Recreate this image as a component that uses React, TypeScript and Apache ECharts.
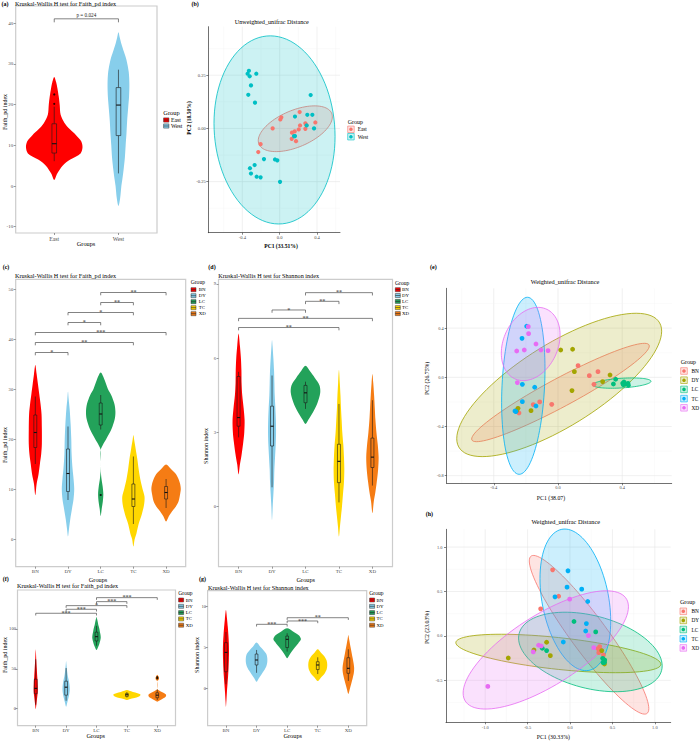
import React, { useEffect, useRef } from "react";
import * as echarts from "echarts";

const FONT = "'Liberation Serif', 'Times New Roman', serif";

// ================= Panel (a): Kruskal-Wallis, Faith_pd, East/West =================
const aGroups = ["East", "West"];
const aViolinColors = ["#FF0000", "#87CEEB"];
// violin outline: [value, half-width in category units]
const aViolins = [
  [[1.5, 0], [3, 0.045], [5, 0.13], [6.5, 0.25], [8, 0.41], [9.5, 0.44], [11, 0.42], [12.5, 0.34], [14, 0.24], [15.5, 0.16], [17.5, 0.1], [20, 0.085], [22, 0.07], [24, 0.05], [25.5, 0.03], [26.8, 0]],
  [[-4.9, 0], [-3, 0.026], [0, 0.045], [1.6, 0.06], [4, 0.08], [7, 0.1], [10, 0.112], [13, 0.125], [16, 0.135], [19, 0.15], [22, 0.165], [25, 0.17], [28, 0.16], [31, 0.125], [33, 0.085], [35, 0.045], [36.5, 0.02], [37.8, 0]],
];
// [lower whisker, Q1, median, Q3, upper whisker]
const aBoxes = [
  [6.1, 8.1, 10.4, 15.3, 19.5],
  [3.1, 12.4, 19.9, 24.2, 28.6],
];
const aOutliers = [[1, 20.2], [1, 22.5]];
const aBrackets = [[1, 2, 41.1]];
const aBracketLabels = ["p = 0.024"];
const aYTicks = [-10, 0, 10, 20, 30, 40];

// ================= Panel (b): Unweighted unifrac PCoA =================
const bGroups = ["East", "West"];
const bColors = ["#F8766D", "#00BFC4"];
const bEast = [
  [0.214, 0.077], [0.018, 0.052], [0.007, 0.042], [-0.075, 0.0], [0.275, 0.024], [0.286, 0.016],
  [0.382, 0.028], [0.218, 0.014], [0.161, -0.014], [0.132, -0.02], [0.204, -0.005], [0.275, -0.002],
  [0.129, -0.049], [0.175, -0.06], [-0.204, -0.074], [-0.229, -0.111],
];
const bWest = [
  [-0.329, 0.271], [-0.343, 0.257], [-0.321, 0.245], [-0.25, 0.257], [-0.307, 0.202], [-0.336, 0.158],
  [-0.264, 0.121], [0.332, 0.157], [0.164, 0.056], [0.296, 0.064], [0.35, 0.064], [0.368, 0.0],
  [0.289, 0.014], [0.154, -0.036], [0.164, -0.036], [-0.168, -0.144], [-0.05, -0.146], [-0.025, -0.15],
  [-0.268, -0.172], [-0.318, -0.187], [-0.307, -0.212], [-0.246, -0.227], [-0.204, -0.23], [0.004, -0.251],
];
// [centre x, centre y, half range x, half range y, correlation]
const bEllipses = [
  [0.1675, -0.0015, 0.3965, 0.1075, 0.52],
  [-0.055, -0.007, 0.648, 0.442, -0.07],
];
const bXTicks = [-0.4, 0, 0.4];
const bYTicks = [-0.25, 0, 0.25];

// ================= Panels (c)(d)(f)(g): five sites =================
const sites = ["BN", "DY", "LC", "TC", "XD"];
const siteViolinColors = ["#FF0000", "#87CEEB", "#23A25A", "#FFD700", "#F57C14"];

// (c) Faith_pd
const cViolins = [
  [[8.8, 0], [11, 0.04], [13, 0.1], [15, 0.14], [17, 0.18], [19, 0.2], [22, 0.2], [25, 0.19], [27, 0.16], [29, 0.12], [31, 0.08], [33, 0.04], [34.8, 0]],
  [[0.5, 0], [2, 0.03], [4, 0.07], [6, 0.12], [8, 0.17], [10, 0.19], [12, 0.17], [14, 0.14], [17, 0.11], [20, 0.1], [23, 0.08], [26, 0.05], [28, 0.02], [29.5, 0]],
  [[4.6, 0], [6, 0.03], [7.5, 0.065], [9, 0.08], [10.5, 0.06], [12, 0.025], [13.5, 0.004], [15.5, 0], [17.8, 0], [19, 0.08], [20, 0.17], [22, 0.33], [24, 0.43], [25.5, 0.45], [27, 0.42], [28.8, 0.32], [30, 0.22], [31.8, 0.12], [33.3, 0]],
  [[-1.5, 0], [0, 0.04], [1, 0.09], [3, 0.16], [5, 0.26], [7, 0.33], [8.5, 0.34], [10, 0.28], [12, 0.21], [14, 0.16], [16, 0.12], [18, 0.07], [20, 0.02], [20.8, 0]],
  [[3.5, 0], [4.5, 0.08], [5.5, 0.18], [6.5, 0.3], [7.5, 0.38], [9, 0.43], [10, 0.45], [11, 0.43], [12, 0.38], [13, 0.3], [14, 0.15], [14.9, 0]],
];
const cBoxes = [
  [15, 18.3, 21.3, 24.8, 28.5],
  [7.8, 9.5, 13.1, 18, 22.5],
  [21.9, 22.8, 25, 27.2, 28.8],
  [3, 6.5, 8, 11, 16.5],
  [6.2, 8, 9.3, 10.5, 12],
];
const cOutliers = [[3, 8.8]];
const cBrackets = [[3, 5, 49.3], [3, 4, 47.3], [2, 4, 45.3], [2, 3, 43.3], [1, 5, 41.3], [1, 4, 39.3], [1, 2, 37.3]];
const cBracketLabels = ["**", "**", "*", "*", "***", "**", "*"];
const cYTicks = [0, 10, 20, 30, 40, 50];

// (d) Shannon
const dViolins = [
  [[1.3, 0], [1.7, 0.04], [2.1, 0.09], [2.6, 0.14], [3.0, 0.17], [3.5, 0.18], [4.0, 0.15], [4.5, 0.11], [5.0, 0.09], [5.5, 0.085], [6.0, 0.07], [6.5, 0.04], [7.0, 0]],
  [[-0.54, 0], [0, 0.02], [0.5, 0.04], [1, 0.06], [1.5, 0.07], [2, 0.09], [2.5, 0.11], [3, 0.12], [3.5, 0.115], [4, 0.1], [4.5, 0.08], [5, 0.07], [5.5, 0.06], [6, 0.04], [6.5, 0.015], [6.74, 0]],
  [[3.34, 0], [3.5, 0.08], [3.8, 0.22], [4.2, 0.36], [4.6, 0.44], [4.9, 0.42], [5.2, 0.28], [5.5, 0.12], [5.69, 0]],
  [[-1.21, 0], [-0.8, 0.03], [-0.4, 0.06], [0, 0.09], [0.5, 0.12], [1, 0.15], [1.5, 0.16], [2, 0.15], [2.5, 0.13], [3, 0.1], [3.5, 0.08], [4, 0.06], [4.5, 0.045], [5, 0.025], [5.53, 0]],
  [[-0.27, 0], [0.2, 0.04], [0.6, 0.09], [1.0, 0.13], [1.5, 0.17], [2.0, 0.185], [2.5, 0.16], [3.0, 0.12], [3.5, 0.09], [4.0, 0.07], [4.5, 0.05], [5.0, 0.025], [5.36, 0]],
];
const dBoxes = [
  [2.8, 3.25, 3.6, 5.26, 5.45],
  [0.78, 2.45, 3.25, 4.06, 5.3],
  [3.95, 4.2, 4.6, 4.9, 5.05],
  [0.17, 0.97, 1.83, 2.52, 4.15],
  [0.85, 1.58, 2.0, 2.77, 4.3],
];
const dBrackets = [[3, 5, 8.65], [3, 4, 8.3], [2, 3, 7.95], [1, 5, 7.61], [1, 4, 7.24]];
const dBracketLabels = ["**", "**", "*", "**", "**"];
const dYTicks = [0, 3, 6, 9];

// (f) Faith_pd
const fViolins = [
  [[-0.8, 0], [5, 0.02], [10, 0.035], [15, 0.05], [20, 0.065], [25, 0.07], [30, 0.065], [35, 0.06], [40, 0.05], [50, 0.035], [60, 0.02], [70, 0.008], [74.5, 0]],
  [[2.5, 0], [8, 0.04], [14, 0.08], [20, 0.11], [25, 0.12], [30, 0.11], [35, 0.09], [40, 0.06], [45, 0.04], [50, 0.025], [55, 0.012], [59.8, 0]],
  [[73.6, 0], [77, 0.05], [81, 0.09], [85, 0.12], [89, 0.14], [93, 0.13], [97, 0.11], [101, 0.09], [105, 0.06], [109, 0.04], [113, 0.015], [115.5, 0]],
  [[10.9, 0], [12, 0.08], [13.5, 0.25], [15, 0.38], [16.5, 0.44], [18, 0.44], [19.5, 0.35], [21, 0.2], [22.5, 0.08], [23.4, 0]],
  [[8.8, 0], [10, 0.06], [12, 0.15], [14, 0.25], [16, 0.29], [18, 0.28], [20, 0.2], [22, 0.1], [23.4, 0.03], [25, 0], [34.5, 0], [36, 0.04], [38.5, 0.06], [41, 0.03], [42.5, 0]],
];
const fBoxes = [
  [5, 18.8, 25.5, 37, 62],
  [10, 17, 27, 34.5, 51],
  [79, 85, 90.4, 96, 104],
  [14, 15.5, 17.5, 19, 21],
  [11, 13.8, 17, 20, 24],
];
const fOutliers = [[5, 38], [5, 39.5]];
const fBrackets = [[1, 3, 119.7], [2, 3, 124.7], [2, 4, 129.3], [3, 4, 134.3], [3, 5, 139.3]];
const fBracketLabels = ["***", "***", "*", "***", "***"];
const fYTicks = [0, 50, 100];

// (g) Shannon
const gViolins = [
  [[-2.25, 0], [-1.5, 0.015], [-0.5, 0.03], [0.5, 0.05], [1.5, 0.07], [2.5, 0.085], [3.5, 0.095], [4.5, 0.1], [5.5, 0.095], [6.5, 0.08], [7.5, 0.06], [8.5, 0.035], [9.6, 0]],
  [[0.8, 0], [1.2, 0.07], [1.7, 0.16], [2.2, 0.25], [2.7, 0.32], [3.2, 0.35], [3.7, 0.35], [4.2, 0.32], [4.7, 0.22], [5.1, 0.12], [5.6, 0]],
  [[3.68, 0], [4.0, 0.06], [4.5, 0.15], [5.0, 0.25], [5.5, 0.36], [6.0, 0.45], [6.5, 0.38], [7.0, 0.18], [7.35, 0]],
  [[0.9, 0], [1.3, 0.1], [1.8, 0.22], [2.3, 0.29], [2.9, 0.31], [3.4, 0.29], [3.9, 0.22], [4.4, 0.1], [4.8, 0]],
  [[-0.7, 0], [-0.2, 0.04], [0.5, 0.09], [1.2, 0.14], [1.9, 0.18], [2.5, 0.19], [3.1, 0.17], [3.7, 0.14], [4.3, 0.11], [4.9, 0.08], [5.5, 0.05], [6.0, 0.025], [6.53, 0]],
];
const gBoxes = [
  [0.5, 2.03, 4.4, 5.6, 6.9],
  [1.9, 2.86, 3.47, 4.2, 4.7],
  [4.5, 5.0, 6.0, 6.4, 6.74],
  [1.75, 2.3, 2.86, 3.26, 3.8],
  [0.9, 1.84, 2.45, 3.75, 4.78],
];
const gBrackets = [[3, 5, 8.65], [3, 4, 8.25], [2, 3, 7.84]];
const gBracketLabels = ["**", "***", "***"];
const gYTicks = [0, 5, 10];

// ================= Panels (e)(h): Weighted unifrac PCoA =================
const pcoaColors = ["#F8766D", "#A3A500", "#00BF7D", "#00B0F6", "#E76BF3"];

const ePoints = [
  [[0.125, 0.095], [0.249, 0.046], [0.195, 0.0135], [0.224, -0.057], [-0.039, -0.22], [-0.114, -0.2], [-0.154, -0.222], [-0.243, -0.29]],
  [[0.091, 0.228], [0.017, 0.222], [0.102, 0.046], [0.324, 0.019], [0.278, -0.035], [0.087, -0.108], [-0.168, -0.271], [-0.249, -0.252], [-0.257, -0.271]],
  [[0.359, -0.016], [0.345, -0.054], [0.403, -0.049], [0.411, -0.038], [0.417, -0.054], [0.436, -0.049], [0.438, -0.065], [0.407, -0.06]],
  [[-0.195, 0.415], [-0.224, 0.317], [-0.145, -0.081], [-0.222, -0.057], [-0.222, -0.198], [-0.137, -0.233], [-0.262, -0.279], [-0.268, -0.274]],
  [[-0.185, 0.412], [-0.183, 0.355], [-0.137, 0.271], [-0.21, 0.222], [-0.257, 0.214], [-0.106, 0.222], [-0.062, 0.217], [-0.253, -0.043]],
];
const eEllipses = [
  [0.0155, -0.1235, 0.553, 0.4, 0.945],
  [0.0075, -0.062, 0.638, 0.583, 0.75],
  [0.3975, -0.047, 0.1815, 0.042, 0.35],
  [-0.216, -0.069, 0.135, 0.72, 0.19],
  [-0.17, 0.271, 0.183, 0.298, 0.25],
];
const eXTicks = [-0.4, 0, 0.4];
const eYTicks = [-0.8, -0.4, 0, 0.4];

const hPoints = [
  [[-0.205, 0.744], [-0.134, 0.447], [-0.346, 0.305], [0.35, -0.12], [0.331, -0.143], [0.354, -0.158], [0.394, -0.214], [0.339, -0.188]],
  [[-0.276, -0.071], [-0.425, -0.158], [-0.232, -0.222], [-0.728, -0.248], [0.374, -0.165], [0.406, -0.316], [0.402, -0.289]],
  [[0.047, 0.162], [0.303, 0.045], [-0.327, -0.139], [-0.276, -0.165], [0.386, -0.252], [0.409, -0.271], [0.39, -0.301], [0.406, -0.297]],
  [[-0.024, 0.733], [-0.035, 0.549], [0.138, 0.526], [-0.177, 0.44], [0.209, 0.387], [0.193, 0.139], [0.185, 0.056], [-0.079, -0.068]],
  [[-0.004, 0.414], [0.217, 0.004], [-0.37, -0.105], [-0.339, -0.113], [-0.433, -0.18], [0.28, -0.132], [-0.969, -0.568]],
];
const hEllipses = [
  [0.2245, 0.013, 0.7045, 0.893, -0.93],
  [-0.1375, -0.1975, 1.2085, 0.2165, -0.56],
  [0.24, -0.1805, 0.8465, 0.4475, -0.35],
  [0.063, 0.406, 0.417, 0.797, -0.3],
  [-0.2855, -0.1575, 0.9745, 0.6655, 0.73],
];
const hXTicks = [-1, -0.5, 0, 0.5, 1];
const hYTicks = [-0.5, 0, 0.5, 1];

// =====================================================================

function hexA(hex: string, a: number) {
  const n = parseInt(hex.slice(1), 16);
  return `rgba(${(n >> 16) & 255},${(n >> 8) & 255},${n & 255},${a})`;
}

function buildOption() {
  const grid: any[] = [];
  const xAxis: any[] = [];
  const yAxis: any[] = [];
  const series: any[] = [];
  const graphic: any[] = [];

  const txt = (x: number, y: number, text: string, o: any = {}) => {
    graphic.push({
      type: "text",
      x,
      y,
      rotation: o.rot || 0,
      silent: true,
      z: 50,
      style: {
        text,
        fontSize: o.size || 6,
        fontFamily: FONT,
        fontWeight: o.bold ? "bold" : "normal",
        fill: o.color || "#000",
        align: o.align || "left",
        textAlign: o.align || "left",
        verticalAlign: "middle",
        textVerticalAlign: "middle",
      },
    });
  };

  const tickLabel = (size: number) => ({ fontSize: size, color: "#4D4D4D", fontFamily: FONT });

  function violinPanel(cfg: any) {
    const gi = grid.length;
    const [l, t, r, b] = cfg.box;
    grid.push({ left: l, top: t, width: r - l, height: b - t, show: true, borderColor: "#CCCCCC", borderWidth: 1.2, backgroundColor: "transparent" });
    const n = cfg.cats.length;
    const catVals = cfg.cats.map((_: any, i: number) => i + 1);
    xAxis.push({
      type: "value", gridIndex: gi, min: 0.4, max: n + 0.6, position: "bottom",
      axisLine: { show: false, onZero: false }, splitLine: { show: false },
      axisTick: { show: true, customValues: catVals, length: 2, lineStyle: { color: "#555", width: 0.6 } },
      axisLabel: { show: true, customValues: catVals, margin: cfg.xMargin, formatter: (v: number) => cfg.cats[Math.round(v) - 1] || "", ...tickLabel(cfg.catSize) },
    });
    yAxis.push({
      type: "value", gridIndex: gi, min: cfg.y[0], max: cfg.y[1], position: "left",
      axisLine: { show: false, onZero: false }, splitLine: { show: false },
      axisTick: { show: true, customValues: cfg.yTicks, length: 2, lineStyle: { color: "#555", width: 0.6 } },
      axisLabel: { show: true, customValues: cfg.yTicks, margin: cfg.yMargin, formatter: (v: number) => String(Math.round(v)), ...tickLabel(cfg.tickSize) },
    });
    const violins = cfg.violins;
    const colors = cfg.colors;
    series.push({
      type: "custom", xAxisIndex: gi, yAxisIndex: gi, silent: true, z: 2,
      data: violins.map((_: any, i: number) => [i + 1, 0]),
      renderItem: (params: any, api: any) => {
        const i = params.dataIndex;
        const prof = violins[i];
        const c = i + 1;
        const pts: number[][] = [];
        for (let k = 0; k < prof.length; k++) pts.push(api.coord([c + prof[k][1], prof[k][0]]));
        for (let k = prof.length - 2; k >= 1; k--) pts.push(api.coord([c - prof[k][1], prof[k][0]]));
        return { type: "polygon", shape: { points: pts, smooth: 0.3 }, style: { fill: colors[i], stroke: "none" } };
      },
    });
    const boxes = cfg.boxes;
    const hw = cfg.boxHalf;
    series.push({
      type: "custom", xAxisIndex: gi, yAxisIndex: gi, silent: true, z: 3,
      data: boxes.map((bx: number[], i: number) => [i + 1, bx[2]]),
      renderItem: (params: any, api: any) => {
        const i = params.dataIndex;
        const [lo, q1, md, q3, hi] = boxes[i];
        const c = i + 1;
        const pLo = api.coord([c, lo]);
        const pHi = api.coord([c, hi]);
        const tl = api.coord([c - hw, q3]);
        const br = api.coord([c + hw, q1]);
        const ml = api.coord([c - hw, md]);
        const mr = api.coord([c + hw, md]);
        const st = { stroke: "#1A1A1A", lineWidth: 0.6 };
        return {
          type: "group",
          children: [
            { type: "line", shape: { x1: pLo[0], y1: pLo[1], x2: pLo[0], y2: br[1] }, style: st },
            { type: "line", shape: { x1: pHi[0], y1: pHi[1], x2: pHi[0], y2: tl[1] }, style: st },
            { type: "rect", shape: { x: tl[0], y: tl[1], width: br[0] - tl[0], height: br[1] - tl[1] }, style: { fill: colors[i], stroke: "#1A1A1A", lineWidth: 0.6 } },
            { type: "line", shape: { x1: ml[0], y1: ml[1], x2: mr[0], y2: mr[1] }, style: { stroke: "#111", lineWidth: 1.1 } },
          ],
        };
      },
    });
    if (cfg.outliers && cfg.outliers.length) {
      series.push({
        type: "scatter", xAxisIndex: gi, yAxisIndex: gi, silent: true, z: 4,
        symbolSize: 2.2, itemStyle: { color: "#000" }, data: cfg.outliers,
      });
    }
    const brackets = cfg.brackets;
    const labels = cfg.bracketLabels;
    series.push({
      type: "custom", xAxisIndex: gi, yAxisIndex: gi, silent: true, z: 4,
      data: brackets.map((bk: number[]) => [(bk[0] + bk[1]) / 2, bk[2]]),
      renderItem: (params: any, api: any) => {
        const i = params.dataIndex;
        const [x1, x2, y] = brackets[i];
        const a = api.coord([x1, y]);
        const b = api.coord([x2, y]);
        const d = cfg.drop;
        const isStar = labels[i].indexOf("*") >= 0;
        return {
          type: "group",
          children: [
            { type: "polyline", shape: { points: [[a[0], a[1] + d], [a[0], a[1]], [b[0], b[1]], [b[0], b[1] + d]] }, style: { stroke: "#4D4D4D", lineWidth: 0.7, fill: "none" } },
            {
              type: "text", x: (a[0] + b[0]) / 2, y: isStar ? a[1] - 0.3 : a[1] - 1,
              style: {
                text: labels[i], fontSize: isStar ? 6 : 5.2, fontFamily: FONT, fill: "#222",
                align: "center", textAlign: "center",
                verticalAlign: isStar ? "middle" : "bottom", textVerticalAlign: isStar ? "middle" : "bottom",
              },
            },
          ],
        };
      },
    });
  }

  function pcoaPanel(cfg: any) {
    const gi = grid.length;
    const [l, t, r, b] = cfg.box;
    grid.push({ left: l, top: t, width: r - l, height: b - t, show: false });
    xAxis.push({
      type: "value", gridIndex: gi, min: cfg.x[0], max: cfg.x[1], position: "bottom",
      axisLine: { show: true, onZero: false, lineStyle: { color: "#333", width: 0.7 } },
      splitLine: { show: false },
      axisTick: { show: true, customValues: cfg.xTicks, length: 2, lineStyle: { color: "#333", width: 0.6 } },
      axisLabel: { show: true, customValues: cfg.xTicks, margin: cfg.xMargin, formatter: (v: number) => v.toFixed(cfg.xDec), ...tickLabel(cfg.tickSize) },
    });
    yAxis.push({
      type: "value", gridIndex: gi, min: cfg.y[0], max: cfg.y[1], position: "left",
      axisLine: { show: true, onZero: false, lineStyle: { color: "#333", width: 0.7 } },
      splitLine: { show: false },
      axisTick: { show: true, customValues: cfg.yTicks, length: 2, lineStyle: { color: "#333", width: 0.6 } },
      axisLabel: { show: true, customValues: cfg.yTicks, margin: cfg.yMargin, formatter: (v: number) => v.toFixed(cfg.yDec), ...tickLabel(cfg.tickSize) },
    });
    const gl: number[][] = [];
    cfg.xMajor.forEach((v: number) => gl.push([v, 0, 1]));
    cfg.xMinor.forEach((v: number) => gl.push([v, 0, 0]));
    cfg.yMajor.forEach((v: number) => gl.push([v, 1, 1]));
    cfg.yMinor.forEach((v: number) => gl.push([v, 1, 0]));
    series.push({
      type: "custom", xAxisIndex: gi, yAxisIndex: gi, silent: true, z: 0,
      data: gl.map((g) => (g[1] === 0 ? [g[0], cfg.y[0]] : [cfg.x[0], g[0]])),
      renderItem: (params: any, api: any) => {
        const [v, dir, major] = gl[params.dataIndex];
        const p1 = dir === 0 ? api.coord([v, cfg.y[0]]) : api.coord([cfg.x[0], v]);
        const p2 = dir === 0 ? api.coord([v, cfg.y[1]]) : api.coord([cfg.x[1], v]);
        return { type: "line", shape: { x1: p1[0], y1: p1[1], x2: p2[0], y2: p2[1] }, style: { stroke: major ? "#E6E6E6" : "#F2F2F2", lineWidth: major ? 0.6 : 0.4 } };
      },
    });
    const ells = cfg.ellipses;
    series.push({
      type: "custom", xAxisIndex: gi, yAxisIndex: gi, silent: true, z: 1,
      data: ells.map((e: number[]) => [e[0], e[1]]),
      renderItem: (params: any, api: any) => {
        const i = params.dataIndex;
        const [cx, cy, rx, ry, rho] = ells[i];
        const s = Math.sqrt(1 - rho * rho);
        const pts: number[][] = [];
        for (let k = 0; k < 96; k++) {
          const th = (2 * Math.PI * k) / 96;
          pts.push(api.coord([cx + rx * Math.cos(th), cy + ry * (rho * Math.cos(th) + s * Math.sin(th))]));
        }
        return { type: "polygon", shape: { points: pts }, style: { fill: hexA(cfg.colors[i], 0.2), stroke: cfg.colors[i], lineWidth: 0.8 } };
      },
    });
    cfg.points.forEach((pts: number[][], i: number) => {
      series.push({
        type: "scatter", name: cfg.groups[i], xAxisIndex: gi, yAxisIndex: gi, silent: true, z: 3,
        symbolSize: cfg.symbolSize, itemStyle: { color: cfg.colors[i], opacity: 1 }, data: pts,
      });
    });
  }

  function violinLegend(x: number, yTitle: number, ys: number[], items: string[], colors: string[], textX: number, kw: number, kh: number, titleSize: number, textSize: number) {
    txt(x, yTitle, "Group", { size: titleSize });
    items.forEach((it, i) => {
      graphic.push({ type: "rect", silent: true, z: 50, shape: { x: x + 0.3, y: ys[i] - kh / 2, width: kw, height: kh }, style: { fill: colors[i], stroke: "#333", lineWidth: 0.5 } });
      graphic.push({ type: "line", silent: true, z: 51, shape: { x1: x + 0.3, y1: ys[i], x2: x + 0.3 + kw, y2: ys[i] }, style: { stroke: "#222", lineWidth: 0.6 } });
      txt(textX, ys[i], it, { size: textSize });
    });
  }

  function pcoaLegend(x: number, yTitle: number, ys: number[], items: string[], colors: string[], textX: number, k: number) {
    txt(x, yTitle, "Group", { size: 6 });
    items.forEach((it, i) => {
      graphic.push({ type: "rect", silent: true, z: 50, shape: { x, y: ys[i] - k / 2, width: k, height: k }, style: { fill: hexA(colors[i], 0.2), stroke: colors[i], lineWidth: 0.6 } });
      graphic.push({ type: "circle", silent: true, z: 51, shape: { cx: x + k / 2, cy: ys[i], r: 1.8 }, style: { fill: colors[i] } });
      txt(textX, ys[i], it, { size: 5.3 });
    });
  }

  // ---------- (a) ----------
  violinPanel({
    box: [15.7, 6, 157, 233], cats: aGroups, y: [-11.55, 44.25], yTicks: aYTicks,
    violins: aViolins, colors: aViolinColors, boxes: aBoxes, outliers: aOutliers,
    brackets: aBrackets, bracketLabels: aBracketLabels, boxHalf: 0.036, drop: 3.5,
    catSize: 5.8, tickSize: 5, xMargin: 2.5, yMargin: 2.5,
  });
  txt(1.5, 4, "(a)", { size: 6, bold: true });
  txt(15, 3.5, "Kruskal-Wallis H test for Faith_pd index", { size: 6.2 });
  txt(5, 112, "Faith_pd index", { size: 6, rot: Math.PI / 2, align: "center" });
  txt(86, 243.3, "Groups", { size: 6.3, align: "center" });
  violinLegend(163.3, 112.7, [120, 126], aGroups, aViolinColors, 171, 5.3, 4.2, 6.4, 5.8);

  // ---------- (b) ----------
  pcoaPanel({
    box: [208.3, 26.7, 340, 232.7], x: [-0.764, 0.646], y: [-0.49, 0.478],
    xTicks: bXTicks, yTicks: bYTicks, xDec: 1, yDec: 2,
    xMajor: [-0.4, 0, 0.4], xMinor: [-0.6, -0.2, 0.2, 0.6], yMajor: [-0.25, 0, 0.25], yMinor: [-0.375, -0.125, 0.125, 0.375],
    ellipses: bEllipses, colors: bColors, groups: bGroups, points: [bEast, bWest], symbolSize: 4.2,
    tickSize: 4.6, xMargin: 2.5, yMargin: 2.5,
  });
  txt(191.5, 4, "(b)", { size: 6, bold: true });
  txt(271.7, 21, "Unweighted_unifrac Distance", { size: 6.2, align: "center" });
  txt(188.5, 118, "PC2 (18.50%)", { size: 5.6, bold: true, rot: Math.PI / 2, align: "center" });
  txt(281, 245.7, "PC1 (33.51%)", { size: 5.6, bold: true, align: "center" });
  pcoaLegend(347.7, 121.7, [129.3, 136.7], bGroups, bColors, 357.7, 6.5);

  // ---------- (c) ----------
  violinPanel({
    box: [15.7, 279.3, 185.7, 566.7], cats: sites, y: [-5.54, 51.94], yTicks: cYTicks,
    violins: cViolins, colors: siteViolinColors, boxes: cBoxes, outliers: cOutliers,
    brackets: cBrackets, bracketLabels: cBracketLabels, boxHalf: 0.045, drop: 2.8,
    catSize: 5, tickSize: 4.6, xMargin: 2.5, yMargin: 2.5,
  });
  txt(2.7, 266.7, "(c)", { size: 6, bold: true });
  txt(15, 275, "Kruskal-Wallis H test for Faith_pd index", { size: 6.2 });
  txt(5, 445, "Faith_pd index", { size: 6, rot: Math.PI / 2, align: "center" });
  txt(98, 579, "Groups", { size: 6.3, align: "center" });
  violinLegend(190.7, 281.7, [289.7, 295.7, 301.7, 307.7, 313.7], sites, siteViolinColors, 198.7, 5, 4, 5.6, 4.9);

  // ---------- (d) ----------
  violinPanel({
    box: [218.5, 279.3, 392.5, 566.7], cats: sites, y: [-2.43, 9.19], yTicks: dYTicks,
    violins: dViolins, colors: siteViolinColors, boxes: dBoxes, outliers: [],
    brackets: dBrackets, bracketLabels: dBracketLabels, boxHalf: 0.045, drop: 2.8,
    catSize: 5, tickSize: 4.6, xMargin: 2.5, yMargin: 2.5,
  });
  txt(208.3, 266.7, "(d)", { size: 6, bold: true });
  txt(218.3, 275, "Kruskal-Wallis H test for Shannon index", { size: 6.2 });
  txt(206, 446, "Shannon index", { size: 6, rot: Math.PI / 2, align: "center" });
  txt(305.8, 579, "Groups", { size: 6.3, align: "center" });
  violinLegend(395, 282.7, [289.7, 295.5, 301.4, 307.6, 313.6], sites, siteViolinColors, 402, 5, 4, 5.6, 4.9);

  // ---------- (e) ----------
  pcoaPanel({
    box: [446.7, 288.3, 671.7, 483.3], x: [-0.693, 0.708], y: [-0.862, 0.724],
    xTicks: eXTicks, yTicks: eYTicks, xDec: 1, yDec: 1,
    xMajor: [-0.4, 0, 0.4], xMinor: [-0.6, -0.2, 0.2, 0.6], yMajor: [-0.8, -0.4, 0, 0.4], yMinor: [-0.6, -0.2, 0.2, 0.6],
    ellipses: eEllipses, colors: pcoaColors, groups: sites, points: ePoints, symbolSize: 4.8,
    tickSize: 4.4, xMargin: 2, yMargin: 3,
  });
  txt(430, 266.7, "(e)", { size: 6, bold: true });
  txt(565, 281.7, "Weighted_unifrac Distance", { size: 6.3, align: "center" });
  txt(427.3, 378.3, "PC2 (26.75%)", { size: 5.8, rot: Math.PI / 2, align: "center" });
  txt(551, 498.3, "PC1 (38.07)", { size: 5.8, align: "center" });
  pcoaLegend(680.7, 361.7, [371, 380.2, 389.4, 398.6, 407.8], sites, pcoaColors, 691.5, 6.6);

  // ---------- (f) ----------
  violinPanel({
    box: [17.5, 590, 175.5, 725.7], cats: sites, y: [-21.3, 148.9], yTicks: fYTicks,
    violins: fViolins, colors: siteViolinColors, boxes: fBoxes, outliers: fOutliers,
    brackets: fBrackets, bracketLabels: fBracketLabels, boxHalf: 0.045, drop: 2.2,
    catSize: 5, tickSize: 4.6, xMargin: 1.8, yMargin: 1.5,
  });
  txt(2.7, 579, "(f)", { size: 6, bold: true });
  txt(17, 585.7, "Kruskal-Wallis H test for Faith_pd index", { size: 6.2 });
  txt(5, 655, "Faith_pd index", { size: 6, rot: Math.PI / 2, align: "center" });
  txt(95.7, 735.7, "Groups", { size: 6.3, align: "center" });
  violinLegend(178.3, 593.3, [600, 606.3, 612.6, 618.9, 625.2], sites, siteViolinColors, 185.7, 5, 4, 5.6, 4.9);

  // ---------- (g) ----------
  violinPanel({
    box: [207.6, 590.7, 366.7, 725.7], cats: sites, y: [-4.58, 11.96], yTicks: gYTicks,
    violins: gViolins, colors: siteViolinColors, boxes: gBoxes, outliers: [],
    brackets: gBrackets, bracketLabels: gBracketLabels, boxHalf: 0.045, drop: 2.2,
    catSize: 5, tickSize: 4.6, xMargin: 1.8, yMargin: 1.5,
  });
  txt(199, 579, "(g)", { size: 6, bold: true });
  txt(208, 587.3, "Kruskal-Wallis H test for Shannon index", { size: 6.2 });
  txt(197.3, 655, "Shannon index", { size: 6, rot: Math.PI / 2, align: "center" });
  txt(292.7, 735.7, "Groups", { size: 6.3, align: "center" });
  violinLegend(369.3, 593.3, [600, 606.3, 612.6, 618.9, 625.2], sites, siteViolinColors, 376.5, 5, 4, 5.6, 4.9);

  // ---------- (h) ----------
  pcoaPanel({
    box: [446, 529.3, 670.7, 722.3], x: [-1.462, 1.187], y: [-0.972, 1.2],
    xTicks: hXTicks, yTicks: hYTicks, xDec: 1, yDec: 1,
    xMajor: [-1, -0.5, 0, 0.5, 1], xMinor: [-1.25, -0.75, -0.25, 0.25, 0.75], yMajor: [-0.5, 0, 0.5, 1], yMinor: [-0.75, -0.25, 0.25, 0.75],
    ellipses: hEllipses, colors: pcoaColors, groups: sites, points: hPoints, symbolSize: 4.8,
    tickSize: 4.4, xMargin: 3, yMargin: 3.5,
  });
  txt(425.7, 514, "(h)", { size: 6, bold: true });
  txt(565.7, 521, "Weighted_unifrac Distance", { size: 6.3, align: "center" });
  txt(426.7, 627.5, "PC2 (23.03%)", { size: 5.8, rot: Math.PI / 2, align: "center" });
  txt(553.3, 737.3, "PC1 (30.33%)", { size: 5.8, align: "center" });
  pcoaLegend(680, 602, [611.3, 620.4, 629.5, 638.7, 647.9], sites, pcoaColors, 691.5, 6.6);

  return {
    animation: false,
    backgroundColor: "#FFFFFF",
    textStyle: { fontFamily: FONT },
    grid,
    xAxis,
    yAxis,
    series,
    graphic,
  };
}

export default function App() {
  const ref = useRef<HTMLDivElement>(null);
  useEffect(() => {
    document.body.style.margin = "0";
    const chart = echarts.init(ref.current as HTMLDivElement, undefined, { renderer: "svg" });
    chart.setOption(buildOption() as any);
    return () => chart.dispose();
  }, []);
  return <div ref={ref} style={{ width: 700, height: 741 }} />;
}
